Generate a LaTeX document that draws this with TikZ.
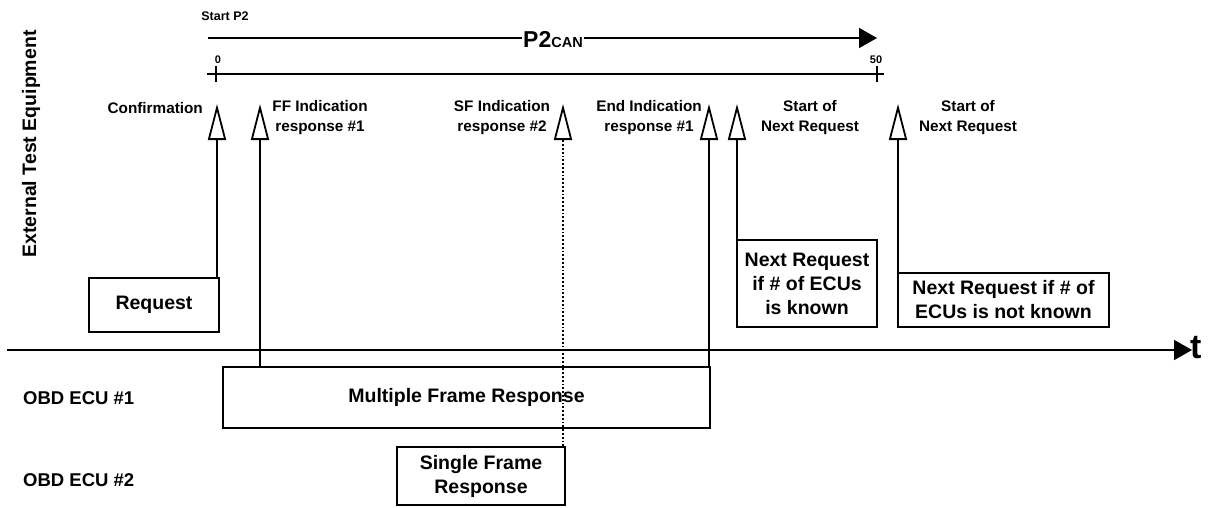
\documentclass[tikz,border=0pt]{standalone}
\usepackage{fontspec}
\setmainfont{Liberation Sans}
\usetikzlibrary{arrows.meta,calc}
\begin{document}
\begin{tikzpicture}[x=1pt,y=-1pt,
  ln/.style={line width=1.8pt},
  lbl/.style={font=\fontsize{15.3}{20}\selectfont\bfseries, align=center, inner sep=0pt},
  side/.style={font=\fontsize{18.5}{22}\selectfont\bfseries, inner sep=0pt, anchor=west},
  small/.style={font=\fontsize{11}{12}\selectfont\bfseries, inner sep=0pt},
  box/.style={draw, line width=1.8pt, font=\fontsize{19.5}{24}\selectfont\bfseries, align=center, inner sep=0pt},
  evt/.style={ln, -{Triangle[open,length=36pt,width=18pt]}},
  evtdot/.style={ln, dash pattern=on 1.8pt off 2pt, -{Triangle[open,length=36pt,width=18pt]}},
  solidtip/.style={ln, -{Triangle[length=18pt,width=20pt]}},
]
\useasboundingbox (0,0) rectangle (1208,507);

% lane titles
\node[font=\fontsize{19.5}{22}\selectfont\bfseries, rotate=90, inner sep=0pt] (ete) at (31,144) {External Test Equipment};
\node[side] (ecu1) at (23,398) {OBD ECU \#1};
\node[side] (ecu2) at (23,480) {OBD ECU \#2};

% P2 timer
\node[font=\fontsize{12.5}{14}\selectfont\bfseries, inner sep=0pt] (sp2) at (225,16) {Start P2};
\coordinate (p2s) at (208,38);
\coordinate (p2e) at (877,38);
\draw[solidtip] (p2s) -- (p2e);
\node[fill=white, inner sep=1.5pt] (p2can) at (553,40) {\fontsize{23}{23}\selectfont\bfseries P2\fontsize{14.5}{14.5}\selectfont CAN};

% P2 scale
\coordinate (a0) at (207,74);
\coordinate (a1) at (884,74);
\draw[ln] (a0) -- (a1);
\coordinate (k0t) at (216,66); \coordinate (k0b) at (216,82);
\coordinate (k1t) at (877,66); \coordinate (k1b) at (877,82);
\draw[ln] (k0t) -- (k0b);
\draw[ln] (k1t) -- (k1b);
\node[small] (z0) at (218,60) {0};
\node[small] (z50) at (876,60) {50};

% time axis
\coordinate (t0) at (7,350);
\coordinate (t1) at (1192,350);
\draw[solidtip] (t0) -- (t1);
\node[font=\fontsize{34}{34}\selectfont\bfseries, inner sep=0pt, anchor=west] (tl) at (1190,348) {t};

% frames
\node[box, minimum width=130pt, minimum height=54pt] (req) at (154,305) {Request};
\node[box, minimum width=487pt, minimum height=61pt] (mf) at (466.5,397.5) {Multiple Frame Response};
\node[box, minimum width=168pt, minimum height=58pt] (sf) at (481,476) {Single Frame\\Response};
\node[box, minimum width=140pt, minimum height=87pt] (nr1) at (807,283.5) {Next Request\\if \# of ECUs\\is known};
\node[box, minimum width=211pt, minimum height=54pt] (nr2) at (1003.5,300) {Next Request if \# of\\ECUs is not known};

% indication points
\coordinate (conf) at (217,104);
\coordinate (ffi) at (260,104);
\coordinate (sfi) at (563,104);
\coordinate (endi) at (709,104);
\coordinate (nx1) at (737,104);
\coordinate (nx2) at (898,104);

\draw[evt] (req.north -| conf) -- (conf);
\draw[evt] (mf.north -| ffi) -- (ffi);
\draw[evtdot] (sf.north -| sfi) -- (sfi);
\draw[evt] (mf.north -| endi) -- (endi);
\draw[evt] (nr1.north -| nx1) -- (nx1);
\draw[evt] (nr2.north -| nx2) -- (nx2);

% indication labels
\node[lbl, anchor=east] (confl) at (203,108) {Confirmation};
\node[lbl] (ffl) at (320,118) {FF Indication\\response \#1};
\node[lbl] (sfl) at (502,118) {SF Indication\\response \#2};
\node[lbl] (endl) at (649,118) {End Indication\\response \#1};
\node[lbl] (nx1l) at (810,118) {Start of\\Next Request};
\node[lbl] (nx2l) at (968,118) {Start of\\Next Request};
\end{tikzpicture}
\end{document}
